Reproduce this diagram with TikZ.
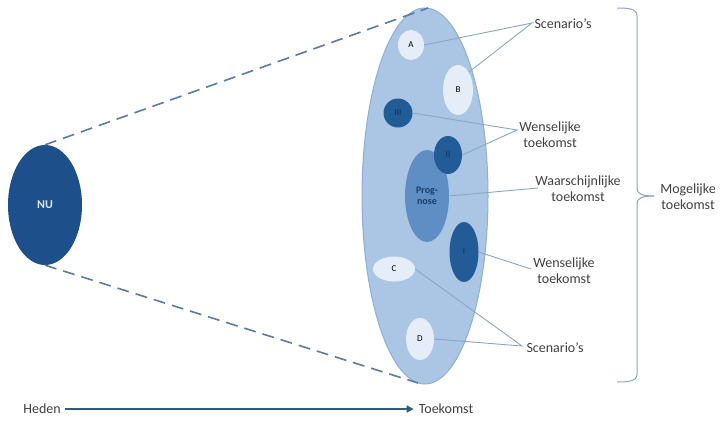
\documentclass[tikz,border=0pt]{standalone}
\usepackage{fontspec}
\setmainfont{Carlito}
\usetikzlibrary{arrows.meta,shapes.geometric}
\definecolor{bigfill}{HTML}{ABC5E5}
\definecolor{bigdraw}{HTML}{8EAED6}
\definecolor{nublue}{HTML}{1D4F8B}
\definecolor{darkblue}{HTML}{215C97}
\definecolor{midblue}{HTML}{5E8EC3}
\definecolor{paleblue}{HTML}{E4EDF8}
\definecolor{dashcol}{HTML}{5B7BA3}
\definecolor{conn}{HTML}{8AA5C6}
\definecolor{arrowcol}{HTML}{2F5B7C}
\definecolor{txt}{HTML}{404040}
\tikzset{
  ell/.style={ellipse, draw=none, inner sep=0pt, font=\fontsize{9}{10}\selectfont},
  lbl/.style={align=center, text=txt, font=\fontsize{14}{16}\selectfont, inner sep=0pt},
  conline/.style={draw=conn, line width=0.9pt},
  dashline/.style={draw=dashcol, line width=1.6pt, dash pattern=on 12pt off 7pt}
}
\begin{document}
\begin{tikzpicture}[x=1pt,y=-1pt]
\useasboundingbox (0,0) rectangle (720,421);
% big ellipse
\node[ellipse, draw=bigdraw, fill=bigfill, line width=1pt, minimum width=126pt, minimum height=376pt, inner sep=0pt] (big) at (425,196) {};
% NU
\node[ellipse, fill=nublue, minimum width=74pt, minimum height=120pt, inner sep=0pt, text=white!85!nublue, font=\fontsize{12}{14}\selectfont\bfseries] (nu) at (45,205) {NU};
\coordinate (bigtop) at (428,8);
\coordinate (bigbot) at (418,383);
\draw[dashline] (nu.north) -- (bigtop);
\draw[dashline] (nu.south) -- (bigbot);
% small ellipses
\node[ell, fill=paleblue, minimum width=26pt, minimum height=30pt] (A) at (411,45) {A};
\node[ell, fill=paleblue, minimum width=30pt, minimum height=50pt] (B) at (458,90) {B};
\node[ell, fill=darkblue, minimum width=29pt, minimum height=29pt, text=nublue!60!black] (III) at (398,113) {III};
\node[ell, fill=midblue, minimum width=44pt, minimum height=92pt, align=center, text=nublue!80!black, font=\fontsize{10}{11}\selectfont\bfseries] (prog) at (427,196) {Prog-\\nose};
\node[ell, fill=darkblue, minimum width=28pt, minimum height=38pt, text=nublue!60!black] (II) at (448,155) {II};
\node[ell, fill=darkblue, minimum width=29pt, minimum height=60pt, text=nublue!60!black] (I) at (464,252) {I};
\node[ell, fill=paleblue, minimum width=42pt, minimum height=25pt] (C) at (394,269) {C};
\node[ell, fill=paleblue, minimum width=28pt, minimum height=42pt] (D) at (420,339) {D};
% labels
\node[lbl] (s1) at (563,24) {Scenario's};
\node[lbl] (w1) at (550,135) {Wenselijke\\toekomst};
\node[lbl] (wa) at (578,189) {Waarschijnlijke\\toekomst};
\node[lbl] (w2) at (564,271) {Wenselijke\\toekomst};
\node[lbl] (s2) at (555,348) {Scenario's};
\node[lbl] (mog) at (688,197) {Mogelijke\\toekomst};
% connectors
\coordinate (s1a) at (532,23);
\draw[conline] (A.east) -- (s1a) -- (B.north east);
\coordinate (w1a) at (517,130);
\draw[conline] (III.east) -- (w1a) -- (II.east);
\coordinate (waa) at (538,188);
\draw[conline] (prog.east) -- (waa);
\coordinate (w2a) at (531,269);
\draw[conline] (I.east) -- (w2a);
\coordinate (s2a) at (522,346);
\draw[conline] (C.east) -- (s2a) -- (D.east);
% brace
\coordinate (bt) at (617,8);
\coordinate (bb) at (617,382);
\coordinate (tip) at (654,196);
\draw[draw=conn, line width=1pt] (bt) .. controls (630,8) and (637,9) .. (637,16) -- (637,188) .. controls (637,194) and (642,196) .. (tip);
\draw[draw=conn, line width=1pt] (bb) .. controls (630,382) and (637,381) .. (637,374) -- (637,204) .. controls (637,198) and (642,196) .. (tip);
% time axis
\node[lbl] (heden) at (42,409) {Heden};
\node[lbl] (toek) at (446,409) {Toekomst};
\draw[draw=arrowcol, line width=2pt, -{Triangle[length=7pt,width=7pt]}] ([xshift=4pt]heden.east) -- ([xshift=-5pt]toek.west);
\end{tikzpicture}
\end{document}
